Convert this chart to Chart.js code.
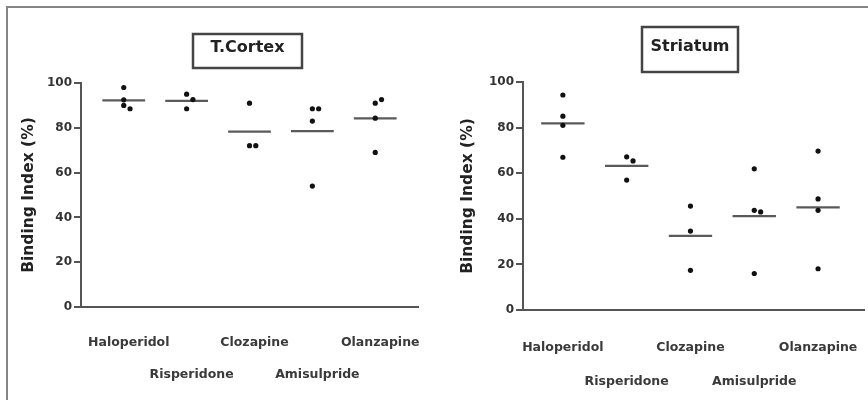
<!DOCTYPE html>
<html>
<head>
<meta charset="utf-8">
<script src="https://cdn.jsdelivr.net/npm/chart.js@4/dist/chart.umd.min.js"></script>
<style>
  body { margin: 0; background: #fff; }
  #wrap { position: relative; width: 868px; height: 400px; overflow: hidden; }
  #frame { position: absolute; left: 6px; top: 6px; right: 0; bottom: 0;
           border-top: 2px solid #858585; border-left: 2px solid #858585; }
  canvas { position: absolute; top: 0; }
  #cortex { left: 0; }
  #striatum { left: 434px; }
</style>
</head>
<body>
<div id="wrap">
  <div id="frame"></div>
  <canvas id="cortex" width="434" height="400"></canvas>
  <canvas id="striatum" width="434" height="400"></canvas>
</div>
<script>
const categories = ['Haloperidol', 'Risperidone', 'Clozapine', 'Amisulpride', 'Olanzapine'];
const yTicks = [0, 20, 40, 60, 80, 100];
const yTitle = 'Binding Index (%)';

// binding index per animal, one list per drug
const cortexValues = [
  [98, 92.5, 90, 88.5],
  [95, 92.6, 88.5],
  [91, 72, 72],
  [88.5, 88.5, 83, 54],
  [91, 92.6, 84.3, 69]
];
const striatumValues = [
  [94.3, 85, 81, 67],
  [67.2, 65.4, 57],
  [45.6, 34.6, 17.4],
  [61.9, 43.7, 43, 16],
  [69.7, 48.7, 43.7, 18.1]
];

const ink = '#555';
const textColor = '#333';
const family = '"DejaVu Sans", sans-serif';

// boxed panel title
const boxTitle = {
  id: 'boxTitle',
  afterDraw(chart, args, opts) {
    const ctx = chart.ctx;
    ctx.save();
    ctx.strokeStyle = '#444';
    ctx.lineWidth = 2.5;
    ctx.strokeRect(opts.x, opts.y, opts.w, opts.h);
    ctx.fillStyle = '#222';
    ctx.font = 'bold 16px ' + family;
    ctx.textAlign = 'center';
    ctx.textBaseline = 'middle';
    ctx.fillText(opts.text, opts.x + opts.w / 2, opts.y + opts.h / 2 - 3);
    ctx.restore();
  }
};

function buildDatasets(values) {
  const points = [];
  values.forEach((group, i) => {
    const placed = [];
    group.forEach((v) => {
      const near = placed.filter((p) => Math.abs(p - v) < 2.5).length;
      const shift = [0, 0.1, -0.1, 0.2][near] || 0;
      points.push({ x: i + shift, y: v });
      placed.push(v);
    });
  });
  const sets = [{
    data: points,
    pointRadius: 2.6,
    pointBackgroundColor: '#111',
    pointBorderWidth: 0,
    showLine: false
  }];
  values.forEach((group, i) => {
    const mean = group.reduce((a, b) => a + b, 0) / group.length;
    sets.push({
      data: [{ x: i - 0.34, y: mean }, { x: i + 0.34, y: mean }],
      showLine: true,
      borderColor: '#5a5a5a',
      borderWidth: 2.2,
      pointRadius: 0
    });
  });
  return sets;
}

function makeChart(id, values, p) {
  return new Chart(document.getElementById(id), {
    type: 'scatter',
    data: { datasets: buildDatasets(values) },
    options: {
      responsive: false,
      animation: false,
      layout: { padding: { left: p.padLeft, top: p.top, right: p.padRight, bottom: 0 } },
      plugins: {
        legend: { display: false },
        tooltip: { enabled: false },
        boxTitle: p.title
      },
      scales: {
        x: {
          type: 'linear',
          min: p.xMin,
          max: p.xMax,
          afterBuildTicks: (s) => { s.ticks = categories.map((c, i) => ({ value: i })); },
          afterFit: (s) => {
            s.height = 400 - p.bottom;
            s.paddingLeft = 0;
            s.paddingRight = 0;
          },
          grid: { display: false },
          border: { color: ink, width: 2 },
          ticks: {
            padding: p.labelPad,
            labelOffset: p.labelShift,
            maxRotation: 0,
            autoSkip: false,
            color: '#3a3a3a',
            font: { family: family, size: 12.5, weight: 'bold', lineHeight: p.lineGap + 'px' },
            callback: (v, i) => (i % 2 ? ['', categories[i]] : categories[i])
          }
        },
        y: {
          min: 0,
          max: 100,
          afterBuildTicks: (s) => { s.ticks = yTicks.map((v) => ({ value: v })); },
          afterFit: (s) => { s.width = p.yWidth; },
          grid: { drawOnChartArea: false, drawTicks: true, tickLength: 7, color: ink, lineWidth: 2 },
          border: { color: ink, width: 2 },
          ticks: {
            padding: 2,
            color: textColor,
            font: { family: family, size: 12, weight: 'bold' }
          },
          title: {
            display: true,
            text: yTitle,
            color: '#222',
            padding: 0,
            font: { family: family, size: 15.5, weight: 'bold', lineHeight: 1.2 }
          }
        }
      }
    },
    plugins: [boxTitle]
  });
}

makeChart('cortex', cortexValues, {
  padLeft: 20, padRight: 16, top: 83, bottom: 307, yWidth: 61,
  xMin: -0.68, xMax: 4.68, labelPad: 12, lineGap: 32, labelShift: 5,
  title: { text: 'T.Cortex', x: 193, y: 34, w: 109, h: 34 }
});
makeChart('striatum', striatumValues, {
  padLeft: 25, padRight: 0, top: 82, bottom: 310, yWidth: 64,
  xMin: -0.625, xMax: 4.72, labelPad: 13, lineGap: 34, labelShift: 0,
  title: { text: 'Striatum', x: 208, y: 27, w: 96, h: 45 }
});
</script>
</body>
</html>
